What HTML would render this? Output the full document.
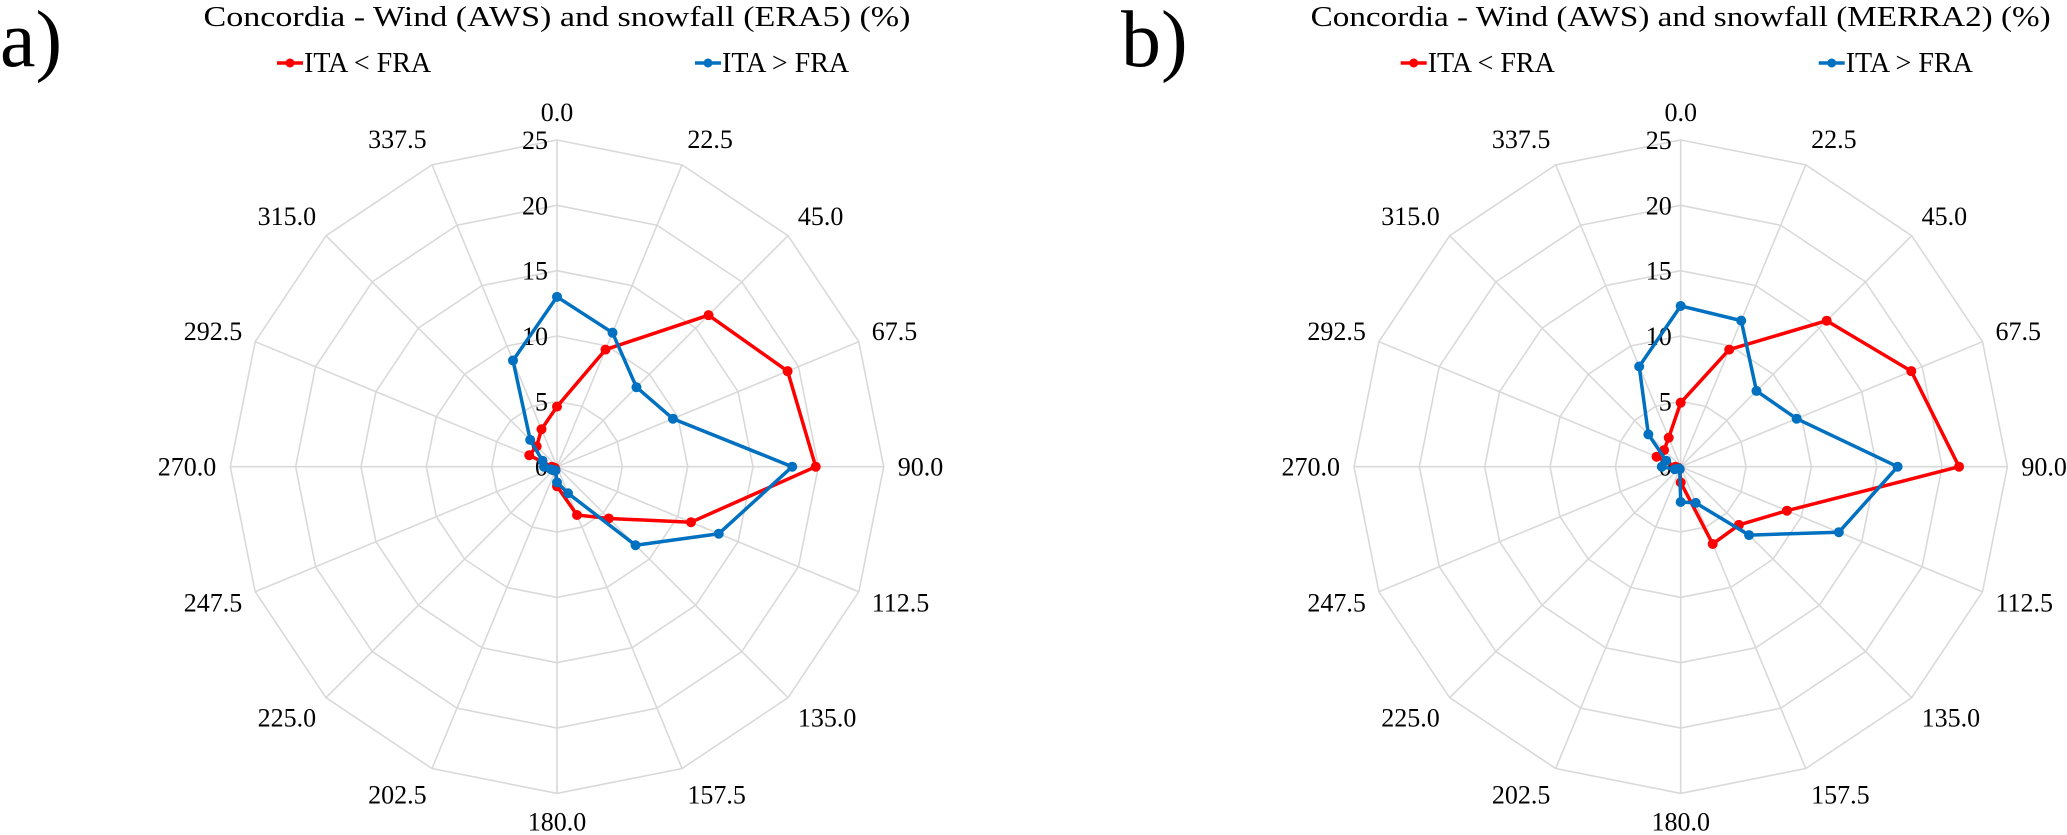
<!DOCTYPE html>
<html><head><meta charset="utf-8">
<style>
html,body{margin:0;padding:0;background:#fff;}
svg{display:block;font-family:"Liberation Serif",serif;}
</style></head>
<body>
<svg id="root" width="2067" height="835" viewBox="0 0 2067 835" xmlns="http://www.w3.org/2000/svg">
  <text x="0" y="66" font-size="80" fill="#000">a)</text>
  <text x="1121" y="66" font-size="80" fill="#000">b)</text>
  <g id="chartA"></g>
  <g id="chartB"></g>
</svg>
<script>
const directions = [0,22.5,45,67.5,90,112.5,135,157.5,180,202.5,225,247.5,270,292.5,315,337.5];
const ringTicks = [0,5,10,15,20,25];
const eraItaLess = [4.6,9.7,16.4,19.1,19.8,11.1,5.6,4.0,1.5,0.3,0.2,0.2,0.4,2.3,2.2,3.1];
const eraItaMore = [13.0,11.1,8.6,9.6,18.0,13.4,8.5,2.2,1.2,0.3,0.4,0.5,1.0,1.2,2.9,8.8];
const merraItaLess = [4.9,9.7,15.8,19.1,21.3,8.8,6.3,6.4,1.2,0.2,0.2,0.2,0.4,2.0,1.8,2.4];
const merraItaMore = [12.3,12.1,8.2,9.6,16.6,13.1,7.4,3.0,2.7,0.2,0.2,0.5,1.45,1.2,3.5,8.3];

const NS = "http://www.w3.org/2000/svg";
function mk(tag, attrs, parent){
  const e = document.createElementNS(NS, tag);
  for (const k in attrs) e.setAttribute(k, attrs[k]);
  parent.appendChild(e);
  return e;
}
function drawChart(g, cx, cy, title, titleLen, lessVals, moreVals, prefix){
  const R = 326.7, maxV = 25;
  const rScale = v => v / maxV * R;
  const pt = (deg, v) => {
    const a = deg * Math.PI / 180, r = rScale(v);
    return [cx + r * Math.sin(a), cy - r * Math.cos(a)];
  };
  const t = mk('text', {x: cx, y: 26, 'font-size': 29, 'text-anchor': 'middle', textLength: titleLen, lengthAdjust: 'spacingAndGlyphs', fill: '#000'}, g);
  
  
  t.textContent = title;
  const series = [
    {name: 'ITA < FRA', color: '#ff0000', x: cx - 280, vals: lessVals, key: 'ita-less-fra'},
    {name: 'ITA > FRA', color: '#0070c0', x: cx + 138, vals: moreVals, key: 'ita-more-fra'}
  ];
  series.forEach(s => {
    const lg = mk('g', {}, g);
    
    
    mk('line', {x1: s.x, y1: 63, x2: s.x + 26, y2: 63, stroke: s.color, 'stroke-width': 3.5}, lg);
    mk('circle', {cx: s.x + 13, cy: 63, r: 4.5, fill: s.color}, lg);
    const lt = mk('text', {x: s.x + 27, y: 72, 'font-size': 28, fill: '#000'}, lg);
    lt.textContent = s.name;
  });
  const grid = mk('g', {}, g);
  
  
  ringTicks.slice(1).forEach(v => {
    const pts = directions.map(d => pt(d, v).join(',')).join(' ');
    mk('polygon', {points: pts, fill: 'none', stroke: '#d9d9d9', 'stroke-width': 1.6}, grid);
  });
  directions.forEach(d => {
    const p = pt(d, maxV);
    mk('line', {x1: cx, y1: cy, x2: p[0], y2: p[1], stroke: '#d9d9d9', 'stroke-width': 1.6}, grid);
  });
  directions.forEach(d => {
    const a = d * Math.PI / 180, s = Math.sin(a), c = Math.cos(a);
    const rr = R + 14;
    const ax = cx + rr * s, ay = cy - rr * c;
    const anchor = s > 0.1 ? 'start' : (s < -0.1 ? 'end' : 'middle');
    const lab = mk('text', {x: ax, y: ay + 9 - c * 14, 'font-size': 26, 'text-anchor': anchor, fill: '#000'}, g);
    
    
    lab.textContent = d.toFixed(1);
  });
  ringTicks.forEach(v => {
    const p = pt(0, v);
    const lab = mk('text', {x: cx - 9, y: p[1] + 9, 'font-size': 26, 'text-anchor': 'end', fill: '#000'}, g);
    
    
    lab.textContent = v;
  });
  series.forEach(s => {
    const sg = mk('g', {}, g);
    
    
    const pts = s.vals.map((v, i) => pt(directions[i], v));
    const poly = mk('polygon', {points: pts.map(p => p.join(',')).join(' '), fill: 'none', stroke: s.color, 'stroke-width': 3.5, 'stroke-linejoin': 'round'}, sg);
    
    
    pts.forEach(p => {
      const c = mk('circle', {cx: p[0], cy: p[1], r: 5, fill: s.color}, sg);
      
      
    });
  });
}
drawChart(document.getElementById('chartA'), 557, 466.7, 'Concordia - Wind (AWS) and snowfall (ERA5) (%)', 707, eraItaLess, eraItaMore, 'era5');
drawChart(document.getElementById('chartB'), 1680.7, 466.7, 'Concordia - Wind (AWS) and snowfall (MERRA2) (%)', 740, merraItaLess, merraItaMore, 'merra2');
</script>
</body></html>
